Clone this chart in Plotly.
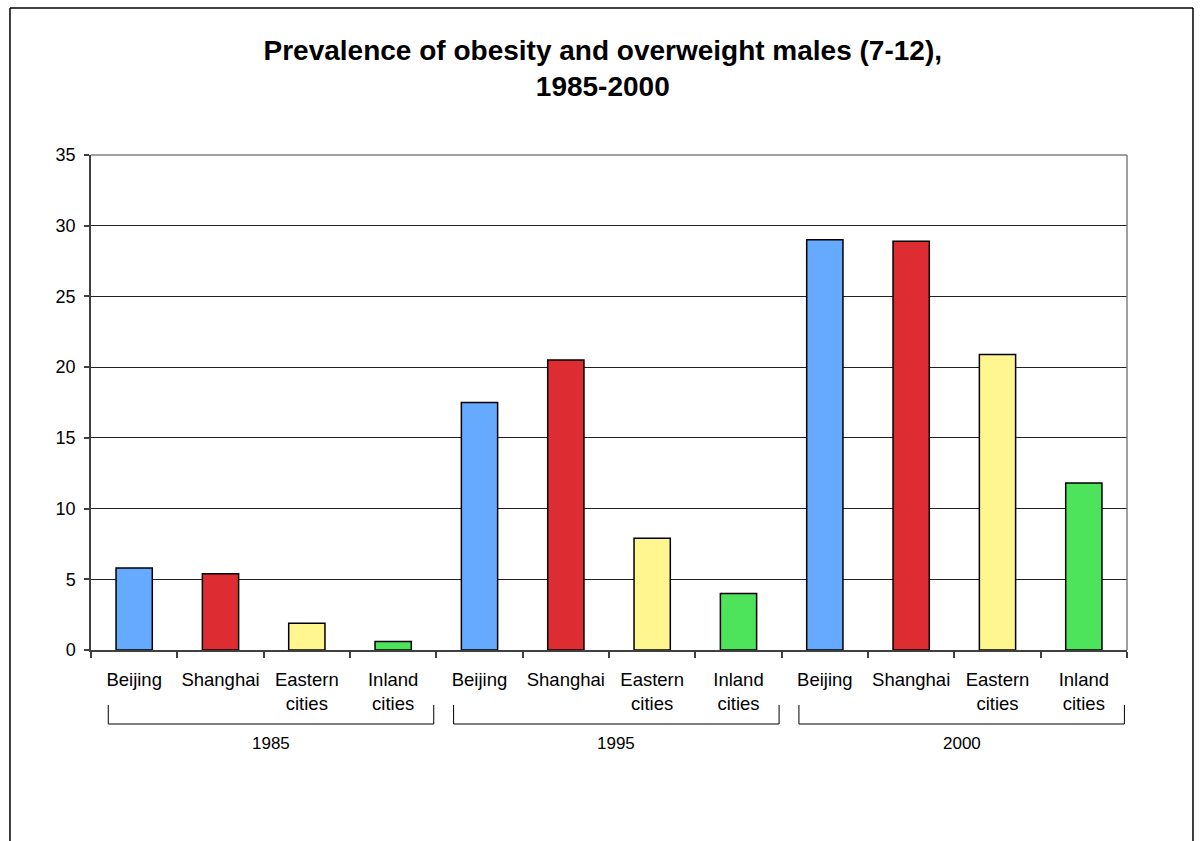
import plotly.graph_objects as go

# Data
years = ["1985", "1995", "2000"]
cities = ["Beijing", "Shanghai", "Eastern cities", "Inland cities"]
city_labels = ["Beijing", "Shanghai", "Eastern<br>cities", "Inland<br>cities"]
beijing = [5.8, 17.5, 29.0]
shanghai = [5.4, 20.5, 28.9]
eastern = [1.9, 7.9, 20.9]
inland = [0.6, 4.0, 11.8]
colors = ["#66AAFF", "#DD2D32", "#FFF68F", "#4DE35A"]

series = [beijing, shanghai, eastern, inland]
n_city = len(cities)

fig = go.Figure()
for ci, (name, vals, col) in enumerate(zip(cities, series, colors)):
    xs = [g * n_city + ci for g in range(len(years))]
    fig.add_trace(go.Bar(
        x=xs, y=vals, name=name, width=0.42,
        marker=dict(color=col, line=dict(color="black", width=1.5)),
        showlegend=False,
    ))

tickvals = list(range(n_city * len(years)))
ticktext = city_labels * len(years)

# group brackets and year labels under the category axis
shapes = []
annotations = []
for g, yr in enumerate(years):
    x0 = g * n_city - 0.3
    x1 = g * n_city + n_city - 0.53
    y_top, y_bot = -0.111, -0.1495
    for xv in (x0, x1):
        shapes.append(dict(type="line", xref="x", yref="paper", x0=xv, x1=xv,
                           y0=y_top, y1=y_bot, line=dict(color="black", width=1)))
    shapes.append(dict(type="line", xref="x", yref="paper", x0=x0, x1=x1,
                       y0=y_bot, y1=y_bot, line=dict(color="black", width=1)))
    annotations.append(dict(x=(x0 + x1) / 2, y=-0.188, xref="x", yref="paper",
                            yanchor="middle",
                            text=yr, showarrow=False,
                            font=dict(size=17, color="black")))

# plot-area border (top and right) in grey
shapes.append(dict(type="line", xref="paper", yref="paper", x0=0, x1=1, y0=1, y1=1,
                   line=dict(color="#808080", width=1.5)))
shapes.append(dict(type="line", xref="paper", yref="paper", x0=1, x1=1, y0=0, y1=1,
                   line=dict(color="#808080", width=1.5)))

# outer chart frame
L, R, T, B = -0.0782, 1.0637, 1.297, -0.40
frame = dict(color="black", width=1.5)
shapes.append(dict(type="line", xref="paper", yref="paper", x0=L, x1=R, y0=T, y1=T, line=frame))
shapes.append(dict(type="line", xref="paper", yref="paper", x0=L, x1=L, y0=T, y1=B, line=frame))
shapes.append(dict(type="line", xref="paper", yref="paper", x0=R, x1=R, y0=T, y1=B, line=frame))

fig.update_layout(
    width=1200, height=841,
    margin=dict(l=91, r=73, t=155, b=191),
    paper_bgcolor="white", plot_bgcolor="white",
    font=dict(family="Liberation Sans, Arial, sans-serif", color="black"),
    title=dict(
        text="<b>Prevalence of obesity and overweight males (7-12),<br>1985-2000</b>",
        x=0.494, xref="paper", xanchor="center",
        y=0.929, yref="container", yanchor="top",
        font=dict(size=28, color="black"),
    ),
    bargap=0.58,
    shapes=shapes,
    annotations=annotations,
    xaxis=dict(
        range=[-0.5, n_city * len(years) - 0.5],
        tickmode="array", tickvals=tickvals, ticktext=ticktext,
        ticks="", tickfont=dict(size=18.5, color="black"),
        ticklabelstandoff=12,
        showgrid=False, zeroline=False,
        showline=True, linecolor="#404040", linewidth=1.5,
        minor=dict(tickmode="array",
                   tickvals=[v - 0.5 for v in tickvals] + [tickvals[-1] + 0.5],
                   ticks="outside", ticklen=6, tickcolor="#404040", tickwidth=1.5,
                   showgrid=False),
        fixedrange=True,
    ),
    yaxis=dict(
        range=[0, 35], dtick=5, tick0=0,
        ticks="outside", ticklen=5, tickcolor="#404040", tickwidth=1.5,
        tickfont=dict(size=18, color="black"),
        ticklabelstandoff=5,
        showgrid=True, gridcolor="#222222", gridwidth=1,
        zeroline=False,
        showline=True, linecolor="#404040", linewidth=1.5,
        fixedrange=True,
    ),
)

fig.write_html("out.html")
